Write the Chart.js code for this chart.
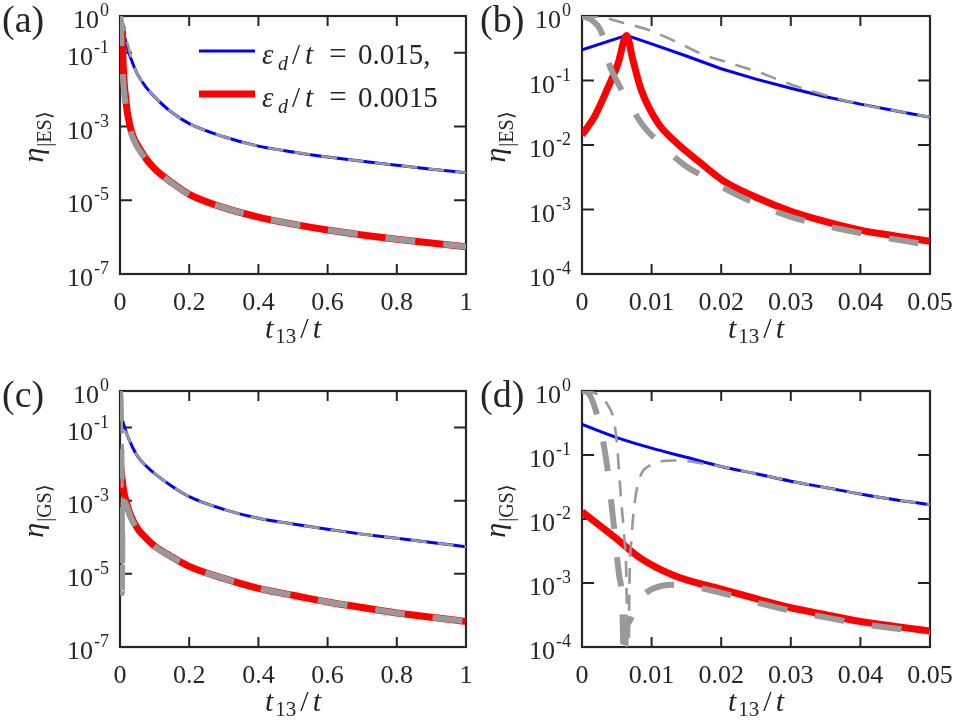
<!DOCTYPE html>
<html>
<head>
<meta charset="utf-8">
<script src="https://cdn.jsdelivr.net/npm/chart.js@4.4.1/dist/chart.umd.min.js"></script>
<style>
  html, body { margin: 0; padding: 0; background: #fff; }
  #wrap { position: relative; width: 953px; height: 721px; overflow: hidden; }
  canvas { position: absolute; }
</style>
</head>
<body>
<div id="wrap">
  <canvas id="pa" width="476" height="360" style="left:0;top:0"></canvas>
  <canvas id="pb" width="477" height="360" style="left:476px;top:0"></canvas>
  <canvas id="pc" width="476" height="361" style="left:0;top:360px"></canvas>
  <canvas id="pd" width="477" height="361" style="left:476px;top:360px"></canvas>
</div>
<script>
// ---- values (x = t13/t, y = eta) ----
// (a) excited state, t13/t up to 1
const aBlueX = [0, 0.0064, 0.01, 0.02, 0.03, 0.05, 0.075, 0.1, 0.15, 0.2, 0.3, 0.4, 0.5, 0.6, 0.7, 0.8, 0.9, 1];
const aBlueY = [0.30, 0.50, 0.37, 0.152, 0.076, 0.027, 0.0118, 0.0064, 0.0024, 1.2e-3, 5.3e-4, 2.95e-4, 2.05e-4, 1.5e-4, 1.14e-4, 8.9e-5, 7.0e-5, 5.6e-5];
const aRedX = [0, 0.0037, 0.0064, 0.0085, 0.0109, 0.0133, 0.0171, 0.0205, 0.025, 0.03, 0.04, 0.05, 0.075, 0.1, 0.15, 0.2, 0.3, 0.4, 0.5, 0.6, 0.7, 0.8, 0.9, 1];
const aRedY = [0.0144, 0.0765, 0.50, 0.072, 0.022, 0.0115, 0.0052, 0.0027, 0.00155, 9.4e-4, 4.8e-4, 3.2e-4, 1.35e-4, 7.2e-5, 3.0e-5, 1.45e-5, 6.3e-6, 3.5e-6, 2.25e-6, 1.56e-6, 1.15e-6, 8.8e-7, 6.9e-7, 5.5e-7];
const aThinX = [0, 0.003, 0.006, 0.0095, 0.0135, 0.0175, 0.02, 0.025, 0.03, 0.04, 0.05, 0.075, 0.1, 0.15, 0.2, 0.3, 0.4, 0.5, 0.6, 0.7, 0.8, 0.9, 1];
const aThinY = [1.0, 0.95, 0.78, 0.61, 0.40, 0.25, 0.205, 0.139, 0.087, 0.043, 0.027, 0.0118, 0.0064, 0.0024, 1.2e-3, 5.3e-4, 2.95e-4, 2.05e-4, 1.5e-4, 1.14e-4, 8.9e-5, 7.0e-5, 5.6e-5];
const aThickX = [0, 0.0015, 0.003, 0.0037, 0.0047, 0.0061, 0.0085, 0.0109, 0.0147, 0.0181, 0.0222, 0.03, 0.04, 0.05, 0.075, 0.1, 0.15, 0.2, 0.3, 0.4, 0.5, 0.6, 0.7, 0.8, 0.9, 1];
const aThickY = [1.0, 0.85, 0.49, 0.21, 0.114, 0.06, 0.022, 0.0113, 0.0049, 0.0030, 0.0017, 7.7e-4, 4.3e-4, 2.8e-4, 1.28e-4, 7.0e-5, 2.95e-5, 1.43e-5, 6.3e-6, 3.5e-6, 2.25e-6, 1.56e-6, 1.15e-6, 8.8e-7, 6.9e-7, 5.5e-7];

// (b) excited state, zoom 0..0.05
const bBlueX = [0, 0.0064, 0.01, 0.015, 0.02, 0.025, 0.03, 0.035, 0.04, 0.045, 0.05];
const bBlueY = [0.30, 0.50, 0.37, 0.24, 0.152, 0.105, 0.076, 0.056, 0.043, 0.034, 0.027];
const bRedX = [0, 0.0018, 0.0037, 0.0052, 0.0064, 0.0073, 0.0085, 0.0109, 0.0133, 0.0171, 0.0205, 0.025, 0.03, 0.035, 0.04, 0.045, 0.05];
const bRedY = [0.0144, 0.0276, 0.0765, 0.187, 0.50, 0.21, 0.072, 0.022, 0.0115, 0.0052, 0.0027, 0.00155, 9.4e-4, 6.5e-4, 4.8e-4, 3.9e-4, 3.2e-4];
const bThinX = [0, 0.003, 0.006, 0.0095, 0.0135, 0.0175, 0.02, 0.025, 0.03, 0.035, 0.04, 0.045, 0.05];
const bThinY = [1.0, 0.95, 0.78, 0.61, 0.40, 0.25, 0.205, 0.139, 0.087, 0.059, 0.043, 0.034, 0.027];
const bThickX = [0, 0.0015, 0.003, 0.0037, 0.0047, 0.0061, 0.0085, 0.0109, 0.0147, 0.0181, 0.0222, 0.03, 0.04, 0.05];
const bThickY = [1.0, 0.85, 0.49, 0.21, 0.114, 0.06, 0.022, 0.0113, 0.0049, 0.0030, 0.0017, 7.7e-4, 4.3e-4, 2.8e-4];

// (c) ground state, t13/t up to 1
const cBlueX = [0, 0.005, 0.01, 0.02, 0.03, 0.05, 0.075, 0.1, 0.15, 0.2, 0.3, 0.4, 0.5, 0.6, 0.7, 0.8, 0.9, 1];
const cBlueY = [0.30, 0.187, 0.128, 0.066, 0.039, 0.0168, 9.0e-3, 5.5e-3, 2.5e-3, 1.3e-3, 5.8e-4, 3.3e-4, 2.3e-4, 1.65e-4, 1.22e-4, 9.4e-5, 7.2e-5, 5.5e-5];
const cRedX = [0, 0.0047, 0.01, 0.02, 0.03, 0.05, 0.075, 0.1, 0.15, 0.2, 0.3, 0.4, 0.5, 0.6, 0.7, 0.8, 0.9, 1];
const cRedY = [0.0130, 0.0052, 0.0020, 8.0e-4, 4.1e-4, 1.78e-4, 9.5e-5, 5.8e-5, 2.9e-5, 1.6e-5, 7.5e-6, 4.0e-6, 2.6e-6, 1.7e-6, 1.2e-6, 8.5e-7, 6.5e-7, 5.0e-7];
const cThinX = [0, 0.003, 0.0045, 0.0056, 0.0066, 0.0076, 0.0085, 0.011, 0.0133, 0.0175, 0.02, 0.03, 0.05, 0.075, 0.1, 0.15, 0.2, 0.3, 0.4, 0.5, 0.6, 0.7, 0.8, 0.9, 1];
const cThinY = [1.0, 0.78, 0.38, 0.021, 1e-5, 0.019, 0.05, 0.078, 0.082, 0.073, 0.066, 0.039, 0.0168, 9.0e-3, 5.5e-3, 2.5e-3, 1.3e-3, 5.8e-4, 3.3e-4, 2.3e-4, 1.65e-4, 1.22e-4, 9.4e-5, 7.2e-5, 5.5e-5];
const cThickX = [0, 0.002, 0.0035, 0.0045, 0.0054, 0.006, 0.0068, 0.0078, 0.0095, 0.0133, 0.02, 0.03, 0.05, 0.075, 0.1, 0.15, 0.2, 0.3, 0.4, 0.5, 0.6, 0.7, 0.8, 0.9, 1];
const cThickY = [1.0, 0.49, 0.081, 9.4e-3, 1.2e-3, 3e-6, 2.5e-4, 4.5e-4, 7.4e-4, 9.4e-4, 7.0e-4, 3.7e-4, 1.65e-4, 9.0e-5, 5.6e-5, 2.85e-5, 1.58e-5, 7.5e-6, 4.0e-6, 2.6e-6, 1.7e-6, 1.2e-6, 8.5e-7, 6.5e-7, 5.0e-7];

// (d) ground state, zoom 0..0.05
const dBlueX = [0, 0.005, 0.01, 0.015, 0.02, 0.025, 0.03, 0.035, 0.04, 0.045, 0.05];
const dBlueY = [0.30, 0.187, 0.128, 0.092, 0.066, 0.051, 0.039, 0.031, 0.0246, 0.020, 0.0168];
const dRedX = [0, 0.0047, 0.0085, 0.0133, 0.02, 0.025, 0.03, 0.035, 0.04, 0.045, 0.05];
const dRedY = [0.0130, 0.0052, 0.0024, 0.0013, 8.0e-4, 5.7e-4, 4.1e-4, 3.2e-4, 2.5e-4, 2.1e-4, 1.78e-4];
const dThinX = [0, 0.0015, 0.003, 0.0037, 0.0045, 0.005, 0.0056, 0.0061, 0.0064, 0.0066, 0.0068, 0.0071, 0.0076, 0.0085, 0.0095, 0.011, 0.0133, 0.0155, 0.0175, 0.02, 0.025, 0.03, 0.035, 0.04, 0.045, 0.05];
const dThinY = [1.0, 0.95, 0.78, 0.6, 0.38, 0.16, 0.021, 4.7e-3, 7.6e-4, 1e-6, 7.6e-4, 4.7e-3, 0.019, 0.05, 0.066, 0.078, 0.082, 0.079, 0.073, 0.066, 0.051, 0.039, 0.031, 0.0246, 0.020, 0.0168];
const dThickX = [0, 0.0006, 0.002, 0.0035, 0.0045, 0.0054, 0.0059, 0.006, 0.0062, 0.0068, 0.0078, 0.0095, 0.0114, 0.0133, 0.016, 0.02, 0.025, 0.03, 0.035, 0.04, 0.045, 0.05];
const dThickY = [1.0, 0.98, 0.49, 0.081, 9.4e-3, 1.2e-3, 1.4e-4, 1e-6, 1e-4, 2.5e-4, 4.5e-4, 7.4e-4, 9.0e-4, 9.4e-4, 8.8e-4, 7.0e-4, 5.0e-4, 3.7e-4, 2.9e-4, 2.3e-4, 1.95e-4, 1.65e-4];

// ticks
const wideTicks = [0, 0.2, 0.4, 0.6, 0.8, 1];
const wideLabels = ['0', '0.2', '0.4', '0.6', '0.8', '1'];
const zoomTicks = [0, 0.01, 0.02, 0.03, 0.04, 0.05];
const zoomLabels = ['0', '0.01', '0.02', '0.03', '0.04', '0.05'];
const wideYTicks = [1, 1e-1, 1e-3, 1e-5, 1e-7];
const wideYExp = ['0', '-1', '-3', '-5', '-7'];
const zoomYTicks = [1, 1e-1, 1e-2, 1e-3, 1e-4];
const zoomYExp = ['0', '-1', '-2', '-3', '-4'];
const legendValues = ['0.015,', '0.0015'];

const SERIF = '"Liberation Serif", serif';
const INK = '#262626';
const BLUE = '#0000ff', RED = '#ff0000', GRAY = '#999999';

const pts = (xs, ys) => xs.map((x, i) => ({ x: x, y: ys[i] }));

const styles = {
  blue: { borderColor: BLUE, borderWidth: 3 },
  red: { borderColor: RED, borderWidth: 7 },
  thin: { borderColor: GRAY, borderWidth: 2.6, borderDash: [16, 11] },
  thick: { borderColor: GRAY, borderWidth: 6, borderDash: [30, 28] },
};

function series(xs, ys, kind, straight) {
  const d = Object.assign({
    data: pts(xs, ys),
    pointRadius: 0,
    fill: false,
    borderCapStyle: 'butt',
    borderJoinStyle: 'round',
    cubicInterpolationMode: 'monotone',
  }, styles[kind]);
  if (straight) { d.cubicInterpolationMode = 'default'; d.tension = 0; }
  return d;
}

function pieces(ctx, x, base, parts) {
  // parts: [text, font, dy, gapAfter]
  parts.forEach(p => {
    ctx.font = p[1];
    ctx.fillText(p[0], x, base + p[2]);
    x += ctx.measureText(p[0]).width + p[3];
  });
  return x;
}

function widthOf(ctx, parts) {
  let w = 0;
  parts.forEach(p => { ctx.font = p[1]; w += ctx.measureText(p[0]).width + p[3]; });
  return w;
}

function axesPlugin(cfg) {
  return {
    id: 'boxAxes',
    beforeDatasetsDraw(chart) {
      const { ctx, chartArea: a } = chart;
      const x = chart.scales.x, y = chart.scales.y;
      ctx.save();
      ctx.strokeStyle = INK;
      ctx.lineWidth = 2;
      ctx.beginPath();
      cfg.xTicks.forEach(v => {
        const px = x.getPixelForValue(v);
        ctx.moveTo(px, a.bottom); ctx.lineTo(px, a.bottom - 10);
        ctx.moveTo(px, a.top); ctx.lineTo(px, a.top + 10);
      });
      cfg.yTicks.forEach(v => {
        const py = y.getPixelForValue(v);
        ctx.moveTo(a.left, py); ctx.lineTo(a.left + 12, py);
        ctx.moveTo(a.right, py); ctx.lineTo(a.right - 12, py);
      });
      ctx.stroke();
      ctx.lineWidth = 2.2;
      ctx.strokeRect(a.left, a.top, a.right - a.left, a.bottom - a.top);
      ctx.restore();
    },
    afterDraw(chart) {
      const { ctx, chartArea: a } = chart;
      const x = chart.scales.x, y = chart.scales.y;
      ctx.save();
      ctx.fillStyle = INK;
      ctx.textBaseline = 'alphabetic';

      // x tick labels
      ctx.font = '26px ' + SERIF;
      ctx.textAlign = 'center';
      cfg.xTicks.forEach((v, i) => {
        ctx.fillText(cfg.xLabels[i], x.getPixelForValue(v), a.bottom + 36);
      });

      // y tick labels 10^n
      ctx.textAlign = 'left';
      cfg.yTicks.forEach((v, i) => {
        const py = y.getPixelForValue(v);
        ctx.font = '18px ' + SERIF;
        const ew = ctx.measureText(cfg.yExp[i]).width;
        ctx.font = '26px ' + SERIF;
        const bw = ctx.measureText('10').width;
        const right = a.left - 11;
        ctx.fillText('10', right - ew - bw - 1, py + 12);
        ctx.font = '18px ' + SERIF;
        ctx.fillText(cfg.yExp[i], right - ew, py);
      });

      // x title  t_13 / t
      const xt = [
        ['t', 'italic 30px ' + SERIF, 0, 2],
        ['13', '21px ' + SERIF, 5, 4],
        ['/', '30px ' + SERIF, 0, 4],
        ['t', 'italic 30px ' + SERIF, 0, 0],
      ];
      const xw = widthOf(ctx, xt);
      pieces(ctx, (a.left + a.right) / 2 - xw / 2, a.bottom + 64, xt);

      // y title  eta_{|ES>}
      const yt = [
        ['η', 'italic 30px ' + SERIF, 0, 1],
        [cfg.ySub, '20px ' + SERIF, 8, 0],
      ];
      const yw = widthOf(ctx, yt);
      ctx.save();
      ctx.translate(a.left - 77, (a.top + a.bottom) / 2 + cfg.yShift);
      ctx.rotate(-Math.PI / 2);
      pieces(ctx, -yw / 2, 0, yt);
      ctx.restore();

      // panel tag
      ctx.font = '38px ' + SERIF;
      ctx.fillText(cfg.tag, cfg.tagX, cfg.tagY);

      // legend (panel a only)
      if (cfg.legend) {
        const ds = chart.data.datasets;
        [ds[3], ds[2]].forEach((d, i) => {
          const ly = a.top + 35 + i * 43;
          ctx.save();
          ctx.strokeStyle = d.borderColor;
          ctx.lineWidth = d.borderWidth;
          ctx.beginPath();
          ctx.moveTo(199, ly); ctx.lineTo(255, ly);
          ctx.stroke();
          ctx.restore();
          const base = ly + 12.5;
          ctx.font = 'italic 29px ' + SERIF;
          ctx.fillText('ε', 262, base);
          ctx.font = 'italic 20px ' + SERIF;
          ctx.fillText('d', 278, base + 6);
          ctx.font = '29px ' + SERIF;
          ctx.fillText('/', 292, base);
          ctx.font = 'italic 29px ' + SERIF;
          ctx.fillText('t', 305, base);
          ctx.font = '31px ' + SERIF;
          ctx.textAlign = 'center';
          ctx.fillText('=', 338, base);
          ctx.textAlign = 'left';
          ctx.font = '29px ' + SERIF;
          ctx.fillText(legendValues[i], 358, base);
        });
      }
      ctx.restore();
    }
  };
}

function makePanel(id, cfg) {
  return new Chart(document.getElementById(id), {
    type: 'line',
    // first dataset is drawn on top
    data: { datasets: cfg.datasets },
    options: {
      responsive: false,
      animation: false,
      events: [],
      layout: { padding: cfg.pad },
      plugins: { legend: { display: false }, tooltip: { enabled: false } },
      scales: {
        x: { type: 'linear', display: false, min: 0, max: cfg.xMax },
        y: { type: 'logarithmic', display: false, min: cfg.yMin, max: 1 },
      },
    },
    plugins: [axesPlugin(cfg)],
  });
}

makePanel('pa', {
  datasets: [series(aThinX, aThinY, 'thin'), series(aThickX, aThickY, 'thick'), series(aRedX, aRedY, 'red'), series(aBlueX, aBlueY, 'blue')],
  pad: { left: 120, top: 16, right: 10, bottom: 86 },
  xMax: 1, yMin: 1e-7,
  xTicks: wideTicks, xLabels: wideLabels, yTicks: wideYTicks, yExp: wideYExp,
  ySub: '|ES⟩', yShift: -8, tag: '(a)', tagX: 2, tagY: 32, legend: true,
});
makePanel('pb', {
  datasets: [series(bThinX, bThinY, 'thin'), series(bThickX, bThickY, 'thick'), series(bRedX, bRedY, 'red'), series(bBlueX, bBlueY, 'blue', true)],
  pad: { left: 106, top: 16, right: 23, bottom: 86 },
  xMax: 0.05, yMin: 1e-4,
  xTicks: zoomTicks, xLabels: zoomLabels, yTicks: zoomYTicks, yExp: zoomYExp,
  ySub: '|ES⟩', yShift: -8, tag: '(b)', tagX: 4, tagY: 32,
});
makePanel('pc', {
  datasets: [series(cThinX, cThinY, 'thin'), series(cThickX, cThickY, 'thick'), series(cRedX, cRedY, 'red'), series(cBlueX, cBlueY, 'blue')],
  pad: { left: 120, top: 31, right: 10, bottom: 74 },
  xMax: 1, yMin: 1e-7,
  xTicks: wideTicks, xLabels: wideLabels, yTicks: wideYTicks, yExp: wideYExp,
  ySub: '|GS⟩', yShift: -8, tag: '(c)', tagX: 2, tagY: 47,
});
makePanel('pd', {
  datasets: [series(dThinX, dThinY, 'thin'), series(dThickX, dThickY, 'thick'), series(dRedX, dRedY, 'red'), series(dBlueX, dBlueY, 'blue')],
  pad: { left: 106, top: 31, right: 23, bottom: 74 },
  xMax: 0.05, yMin: 1e-4,
  xTicks: zoomTicks, xLabels: zoomLabels, yTicks: zoomYTicks, yExp: zoomYExp,
  ySub: '|GS⟩', yShift: -8, tag: '(d)', tagX: 4, tagY: 47,
});
</script>
</body>
</html>
